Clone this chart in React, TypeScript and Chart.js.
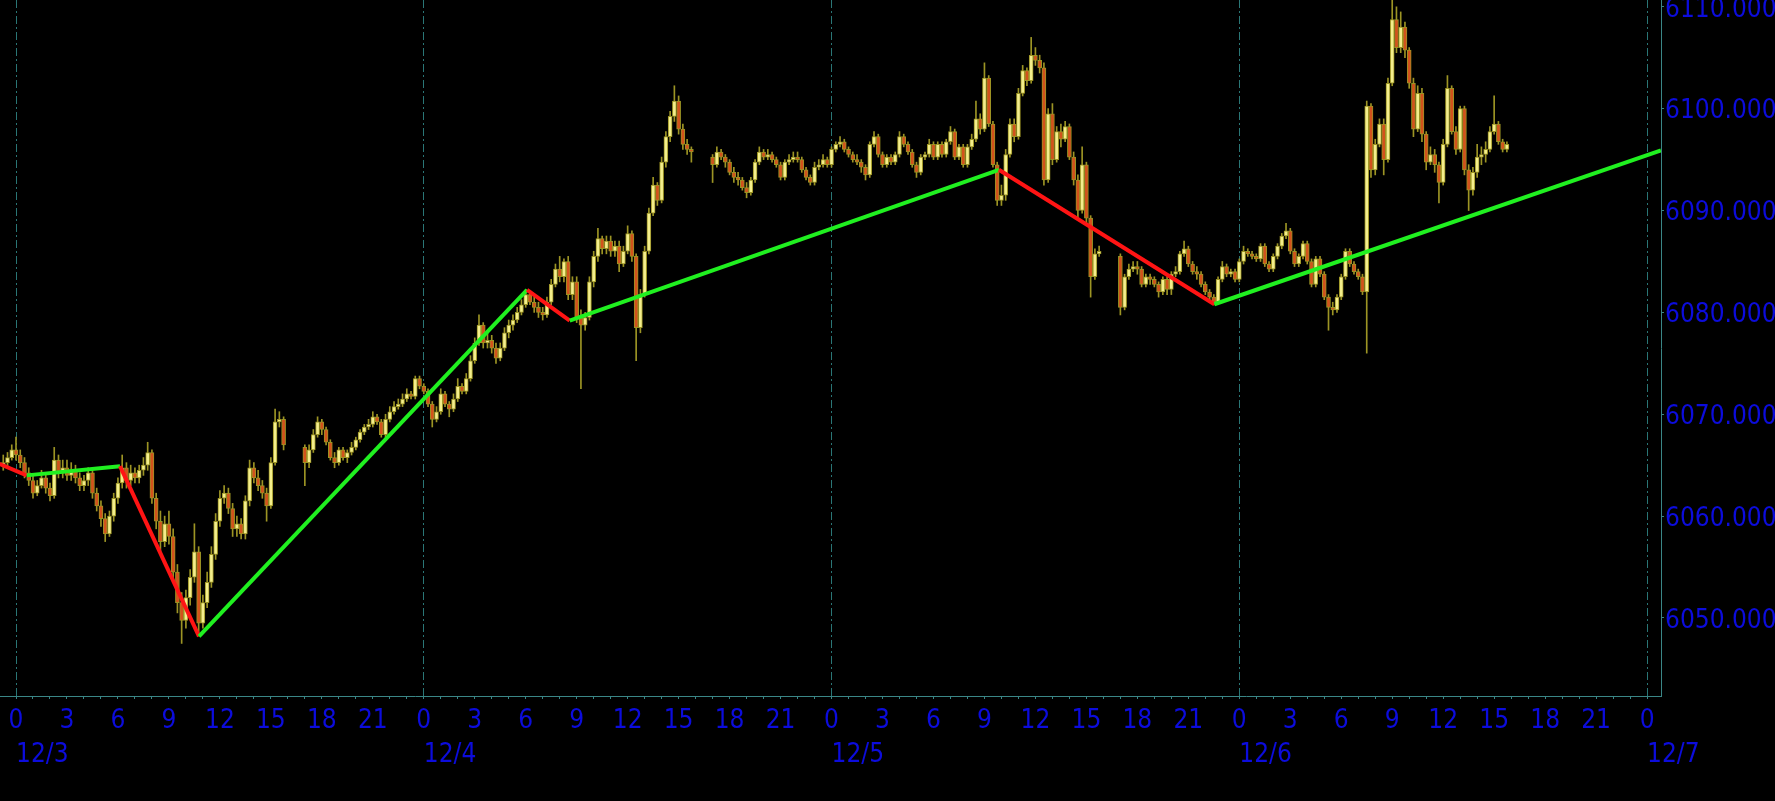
import React, { useEffect, useRef } from 'react';
import { Chart, registerables } from 'chart.js';

Chart.register(...registerables);

const N = null;

// 15-minute candles, first bar at 12/2 23:15 (hours counted from 12/3 00:00)
const FIRST_BAR_HOUR = -0.75;
const BAR_STEP_HOURS = 0.25;

// one row per hour (4 bars), N = no trading (daily break)
const OPEN: (number | null)[] = [
  6065.0, 6065.25, 6065.75,
  6066.5, 6066.0, 6065.25, 6064.25,
  6063.5, 6062.25, 6063.0, 6063.75,
  6062.75, 6062.0, 6065.5, 6064.25,
  6064.75, 6064.0, 6064.5, 6063.75,
  6063.0, 6063.5, 6064.25, 6062.25,
  6061.0, 6059.75, 6058.25, 6060.0,
  6061.75, 6063.25, 6064.75, 6063.5,
  6064.25, 6063.75, 6064.5, 6065.0,
  6066.25, 6061.75, 6059.5, 6057.5,
  6059.25, 6058.0, 6054.5, 6051.5,
  6049.75, 6052.0, 6054.0, 6056.5,
  6049.5, 6051.5, 6053.5, 6056.25,
  6059.5, 6061.75, 6062.25, 6060.75,
  6058.75, 6059.25, 6058.25, 6061.5,
  6064.75, 6063.75, 6063.0, 6062.25,
  6061.0, 6065.25, 6069.25, 6069.5,
  N, N, N, N,
  6066.75, 6065.25, 6066.5, 6068.0,
  6069.25, 6068.5, 6067.25, 6065.75,
  6065.25, 6066.5, 6065.75, 6066.25,
  6066.75, 6067.5, 6068.25, 6068.75,
  6069.0, 6069.75, 6069.25, 6068.0,
  6069.5, 6070.25, 6070.75, 6071.0,
  6071.5, 6072.0, 6071.75, 6073.5,
  6072.75, 6072.25, 6071.0, 6069.5,
  6070.25, 6072.0, 6071.0, 6070.5,
  6071.5, 6072.75, 6072.25, 6073.5,
  6075.25, 6077.0, 6078.75, 6077.0,
  6077.25, 6076.5, 6075.5, 6076.5,
  6078.0, 6078.75, 6079.25, 6080.0,
  6080.75, 6081.75, 6081.0, 6080.5,
  6080.0, 6079.75, 6081.0, 6082.75,
  6084.25, 6083.5, 6085.0, 6081.75,
  6083.0, 6079.5, 6078.75, 6079.5,
  6083.0, 6085.5, 6087.25, 6086.25,
  6087.0, 6086.0, 6086.5, 6084.75,
  6086.0, 6087.75, 6085.5, 6078.5,
  6081.75, 6086.0, 6089.75, 6092.5,
  6091.0, 6094.75, 6097.25, 6099.25,
  6100.75, 6098.0, 6096.5, 6096.0,
  N, N, N, N,
  6095.25, 6094.5, 6095.75, 6095.25,
  6094.75, 6093.75, 6093.25, 6093.0,
  6092.25, 6091.75, 6093.0, 6094.75,
  6095.75, 6095.25, 6095.5, 6095.0,
  6094.5, 6093.25, 6094.75, 6095.0,
  6095.25, 6095.0, 6094.0, 6093.25,
  6092.75, 6094.25, 6094.5, 6095.0,
  6094.5, 6096.0, 6096.5, 6096.75,
  6096.0, 6095.5, 6095.0, 6094.75,
  6094.25, 6093.5, 6096.5, 6097.25,
  6095.5, 6094.5, 6095.25, 6094.75,
  6095.5, 6097.25, 6096.5, 6095.75,
  6094.5, 6093.75, 6095.25, 6095.5,
  6096.5, 6095.25, 6096.5, 6095.5,
  6096.75, 6097.75, 6095.25, 6096.25,
  6094.5, 6096.25, 6097.0, 6099.0,
  6098.0, 6103.0, 6098.5, 6094.5,
  6091.0, 6091.5, 6095.5, 6098.5,
  6097.25, 6101.5, 6103.75, 6102.75,
  6105.25, 6104.75, 6104.0, 6093.0,
  6099.5, 6095.0, 6097.75, 6097.0,
  6098.25, 6095.25, 6093.0, 6090.0,
  6094.5, 6089.25, 6083.5, 6085.75,
  N, N, N, N,
  6085.5, 6080.5, 6083.5, 6084.25,
  6084.5, 6084.25, 6082.75, 6083.5,
  6083.25, 6082.75, 6082.0, 6083.25,
  6082.25, 6083.75, 6084.0, 6085.75,
  6086.25, 6084.75, 6084.0, 6083.75,
  6082.75, 6082.0, 6081.5, 6081.0,
  6083.25, 6084.5, 6083.75, 6084.0,
  6083.25, 6085.0, 6086.0, 6085.75,
  6085.5, 6085.25, 6086.5, 6084.75,
  6084.25, 6085.5, 6086.5, 6087.5,
  6088.0, 6086.0, 6084.75, 6085.5,
  6086.75, 6085.0, 6082.75, 6085.25,
  6083.75, 6081.5, 6080.5, 6080.25,
  6081.5, 6083.5, 6086.0, 6084.75,
  6084.0, 6083.5, 6082.0, 6100.25,
  6094.0, 6096.5, 6098.5, 6095.0,
  6102.5, 6108.75, 6106.0, 6108.0,
  6105.75, 6102.5, 6098.0, 6101.5,
  6097.5, 6094.75, 6095.5, 6094.5,
  6092.75, 6096.5, 6102.0, 6097.75,
  6096.0, 6100.0, 6094.0, 6092.0,
  6093.75, 6095.25, 6095.5, 6096.0,
  6097.75, 6098.5, 6096.75, 6096.0,
];

const HIGH: (number | null)[] = [
  6066.0, 6066.25, 6067.0,
  6067.75, 6066.5, 6065.75, 6064.75,
  6064.0, 6063.5, 6064.5, 6064.25,
  6063.25, 6066.75, 6066.0, 6065.5,
  6065.5, 6065.25, 6065.0, 6064.25,
  6064.0, 6064.75, 6064.75, 6062.75,
  6061.5, 6060.25, 6060.5, 6062.25,
  6063.75, 6066.0, 6065.25, 6065.0,
  6064.75, 6065.0, 6065.75, 6067.25,
  6066.5, 6062.25, 6060.5, 6060.0,
  6060.5, 6058.75, 6055.25, 6052.5,
  6052.75, 6054.75, 6059.25, 6057.0,
  6052.25, 6054.5, 6057.0, 6060.25,
  6062.5, 6063.0, 6062.75, 6061.25,
  6060.0, 6059.75, 6062.0, 6065.5,
  6065.25, 6064.5, 6063.5, 6062.75,
  6065.75, 6070.5, 6070.25, 6069.75,
  N, N, N, N,
  6067.0, 6067.0, 6068.5, 6069.75,
  6069.5, 6068.75, 6067.5, 6066.25,
  6066.75, 6066.75, 6066.5, 6067.25,
  6067.75, 6068.5, 6069.0, 6069.5,
  6070.25, 6070.0, 6069.5, 6070.0,
  6070.75, 6071.25, 6071.5, 6072.0,
  6072.5, 6072.25, 6073.75, 6073.75,
  6073.0, 6072.5, 6071.25, 6070.75,
  6072.5, 6072.25, 6071.25, 6072.0,
  6073.5, 6073.0, 6074.0, 6075.75,
  6077.5, 6079.75, 6079.0, 6078.0,
  6077.75, 6077.0, 6077.0, 6078.5,
  6079.25, 6079.75, 6080.5, 6081.25,
  6082.25, 6082.0, 6081.5, 6081.0,
  6080.5, 6081.5, 6083.25, 6084.75,
  6085.5, 6085.25, 6085.5, 6083.5,
  6083.5, 6080.25, 6080.0, 6083.5,
  6086.0, 6088.25, 6087.5, 6087.5,
  6087.5, 6087.0, 6087.0, 6086.5,
  6088.5, 6088.0, 6085.75, 6082.25,
  6086.5, 6090.25, 6093.25, 6092.75,
  6095.25, 6097.75, 6099.75, 6102.25,
  6101.25, 6098.5, 6097.0, 6096.25,
  N, N, N, N,
  6095.5, 6096.25, 6096.0, 6095.5,
  6095.0, 6094.25, 6093.75, 6093.25,
  6092.75, 6093.25, 6095.0, 6096.25,
  6096.0, 6096.0, 6095.75, 6095.25,
  6094.75, 6095.0, 6095.5, 6095.75,
  6095.75, 6095.25, 6094.25, 6093.5,
  6094.75, 6095.0, 6095.5, 6095.25,
  6096.25, 6096.75, 6097.25, 6097.0,
  6096.25, 6095.75, 6095.5, 6095.0,
  6094.5, 6096.75, 6097.75, 6097.5,
  6095.75, 6095.5, 6095.5, 6095.75,
  6097.75, 6097.5, 6096.75, 6096.0,
  6094.75, 6095.5, 6095.75, 6097.0,
  6096.75, 6096.75, 6096.75, 6097.0,
  6098.25, 6098.0, 6096.5, 6096.5,
  6096.5, 6097.5, 6100.75, 6099.5,
  6104.5, 6103.25, 6098.75, 6094.75,
  6092.5, 6096.0, 6099.0, 6099.0,
  6102.0, 6104.25, 6104.0, 6107.0,
  6106.0, 6105.25, 6104.5, 6100.0,
  6100.5, 6098.25, 6098.5, 6098.75,
  6098.5, 6095.75, 6093.5, 6096.25,
  6094.75, 6089.5, 6086.25, 6086.5,
  N, N, N, N,
  6085.75, 6083.75, 6084.75, 6085.0,
  6085.0, 6084.5, 6083.75, 6083.75,
  6083.5, 6083.0, 6083.5, 6083.5,
  6084.0, 6084.5, 6086.0, 6087.0,
  6086.5, 6085.0, 6084.5, 6084.0,
  6083.0, 6082.25, 6081.75, 6083.5,
  6085.0, 6084.75, 6084.25, 6084.25,
  6085.25, 6086.5, 6086.25, 6086.0,
  6085.75, 6086.75, 6086.75, 6085.0,
  6085.75, 6086.75, 6087.75, 6088.75,
  6088.25, 6086.25, 6085.75, 6087.0,
  6087.0, 6085.25, 6085.5, 6085.5,
  6084.0, 6081.75, 6081.0, 6081.75,
  6083.75, 6086.25, 6086.25, 6085.0,
  6084.25, 6083.75, 6100.75, 6100.5,
  6097.0, 6099.0, 6099.0, 6103.0,
  6110.75, 6110.0, 6109.5, 6108.5,
  6106.0, 6103.0, 6102.25, 6102.0,
  6097.75, 6096.25, 6096.0, 6094.75,
  6097.0, 6103.25, 6102.25, 6098.25,
  6100.25, 6100.25, 6094.5, 6094.25,
  6096.5, 6096.25, 6096.75, 6098.25,
  6101.25, 6098.75, 6097.0, 6096.75,
];

const LOW: (number | null)[] = [
  6064.5, 6064.75, 6065.5,
  6065.5, 6064.75, 6063.75, 6063.0,
  6061.75, 6062.0, 6062.75, 6062.25,
  6061.5, 6061.75, 6063.75, 6063.75,
  6063.5, 6063.5, 6063.25, 6062.5,
  6062.5, 6063.0, 6061.75, 6060.5,
  6059.0, 6057.5, 6058.0, 6059.5,
  6061.25, 6062.75, 6062.75, 6063.0,
  6063.25, 6063.25, 6064.0, 6064.5,
  6061.25, 6058.75, 6056.5, 6057.0,
  6057.25, 6053.75, 6050.5, 6047.5,
  6049.0, 6051.25, 6053.5, 6048.25,
  6049.0, 6051.0, 6053.0, 6055.75,
  6059.0, 6061.25, 6060.25, 6058.0,
  6058.0, 6057.75, 6057.75, 6061.0,
  6063.25, 6062.5, 6061.75, 6059.5,
  6060.75, 6065.0, 6068.75, 6066.5,
  N, N, N, N,
  6063.0, 6064.75, 6066.25, 6067.75,
  6068.0, 6067.0, 6065.5, 6064.75,
  6065.0, 6065.5, 6065.25, 6066.0,
  6066.5, 6067.25, 6068.0, 6068.5,
  6068.75, 6069.0, 6067.75, 6067.75,
  6069.25, 6070.0, 6070.5, 6070.75,
  6071.25, 6071.5, 6071.5, 6072.5,
  6072.0, 6070.75, 6068.75, 6069.25,
  6070.0, 6070.75, 6069.75, 6070.25,
  6071.25, 6072.0, 6072.0, 6073.25,
  6075.0, 6076.75, 6076.5, 6076.5,
  6076.0, 6075.0, 6075.25, 6076.25,
  6077.5, 6078.25, 6079.0, 6079.75,
  6080.5, 6080.75, 6080.0, 6079.5,
  6079.25, 6079.5, 6080.75, 6082.5,
  6083.0, 6083.0, 6081.25, 6081.25,
  6079.0, 6072.5, 6078.25, 6079.25,
  6082.5, 6085.0, 6085.75, 6085.75,
  6085.5, 6085.5, 6084.0, 6084.5,
  6085.75, 6085.0, 6075.25, 6078.0,
  6081.5, 6085.75, 6089.5, 6090.5,
  6090.75, 6094.25, 6096.75, 6098.75,
  6097.5, 6096.0, 6095.5, 6094.75,
  N, N, N, N,
  6092.75, 6094.25, 6095.0, 6094.25,
  6093.5, 6092.75, 6092.5, 6092.0,
  6091.25, 6091.5, 6092.75, 6094.5,
  6095.0, 6095.0, 6094.75, 6094.25,
  6093.0, 6093.0, 6094.5, 6094.75,
  6094.75, 6093.75, 6093.0, 6092.5,
  6092.5, 6094.0, 6094.25, 6094.25,
  6094.25, 6095.75, 6096.25, 6095.75,
  6095.25, 6094.75, 6094.5, 6093.75,
  6093.0, 6093.25, 6096.25, 6095.25,
  6094.25, 6094.25, 6094.5, 6094.5,
  6095.25, 6096.25, 6095.5, 6094.25,
  6093.25, 6093.5, 6095.0, 6095.25,
  6095.0, 6095.0, 6095.25, 6095.25,
  6096.5, 6095.0, 6095.0, 6094.25,
  6094.25, 6096.0, 6096.75, 6097.5,
  6097.75, 6098.25, 6094.25, 6090.5,
  6090.5, 6091.0, 6095.25, 6096.75,
  6097.0, 6101.25, 6102.25, 6102.5,
  6104.25, 6103.5, 6092.5, 6092.75,
  6094.5, 6094.75, 6096.25, 6096.75,
  6095.0, 6092.5, 6089.25, 6089.75,
  6088.75, 6081.5, 6083.25, 6085.5,
  N, N, N, N,
  6079.75, 6080.25, 6083.25, 6084.0,
  6083.75, 6082.5, 6082.5, 6082.75,
  6082.5, 6081.5, 6081.75, 6081.75,
  6081.75, 6083.5, 6083.75, 6085.5,
  6084.5, 6083.75, 6083.25, 6082.5,
  6081.75, 6081.25, 6080.75, 6080.75,
  6083.0, 6083.5, 6083.5, 6083.0,
  6083.0, 6084.75, 6085.5, 6085.25,
  6085.0, 6085.0, 6084.5, 6084.0,
  6084.0, 6085.25, 6086.25, 6087.25,
  6085.75, 6084.5, 6084.5, 6085.25,
  6084.75, 6082.5, 6082.5, 6083.5,
  6081.25, 6078.25, 6079.75, 6080.0,
  6081.25, 6083.25, 6084.5, 6083.75,
  6083.25, 6081.75, 6076.0, 6093.25,
  6093.5, 6096.25, 6093.5, 6094.75,
  6102.25, 6105.5, 6105.5, 6105.0,
  6102.0, 6097.25, 6097.75, 6096.75,
  6094.0, 6094.5, 6093.75, 6090.75,
  6092.5, 6096.25, 6097.5, 6095.5,
  6095.75, 6093.5, 6090.0, 6091.5,
  6093.25, 6094.5, 6094.75, 6095.75,
  6097.5, 6096.5, 6095.75, 6095.75,
];

const CLOSE: (number | null)[] = [
  6065.25, 6065.75, 6066.5,
  6066.0, 6065.25, 6064.25, 6063.5,
  6062.25, 6063.0, 6063.75, 6062.75,
  6062.0, 6065.5, 6064.25, 6064.75,
  6064.0, 6064.5, 6063.75, 6063.0,
  6063.5, 6064.25, 6062.25, 6061.0,
  6059.75, 6058.25, 6060.0, 6061.75,
  6063.25, 6064.75, 6063.5, 6064.25,
  6063.75, 6064.5, 6065.0, 6066.25,
  6061.75, 6059.5, 6057.5, 6059.25,
  6058.0, 6054.5, 6051.5, 6049.75,
  6052.0, 6054.0, 6056.5, 6049.5,
  6051.5, 6053.5, 6056.25, 6059.5,
  6061.75, 6062.25, 6060.75, 6058.75,
  6059.25, 6058.25, 6061.5, 6064.75,
  6063.75, 6063.0, 6062.25, 6061.0,
  6065.25, 6069.25, 6069.5, 6067.0,
  N, N, N, N,
  6065.25, 6066.5, 6068.0, 6069.25,
  6068.5, 6067.25, 6065.75, 6065.25,
  6066.5, 6065.75, 6066.25, 6066.75,
  6067.5, 6068.25, 6068.75, 6069.0,
  6069.75, 6069.25, 6068.0, 6069.5,
  6070.25, 6070.75, 6071.0, 6071.5,
  6072.0, 6071.75, 6073.5, 6072.75,
  6072.25, 6071.0, 6069.5, 6070.25,
  6072.0, 6071.0, 6070.5, 6071.5,
  6072.75, 6072.25, 6073.5, 6075.25,
  6077.0, 6078.75, 6077.0, 6077.25,
  6076.5, 6075.5, 6076.5, 6078.0,
  6078.75, 6079.25, 6080.0, 6080.75,
  6081.75, 6081.0, 6080.5, 6080.0,
  6079.75, 6081.0, 6082.75, 6084.25,
  6083.5, 6085.0, 6081.75, 6083.0,
  6079.5, 6078.75, 6079.5, 6083.0,
  6085.5, 6087.25, 6086.25, 6087.0,
  6086.0, 6086.5, 6084.75, 6086.0,
  6087.75, 6085.5, 6078.5, 6081.75,
  6086.0, 6089.75, 6092.5, 6091.0,
  6094.75, 6097.25, 6099.25, 6100.75,
  6098.0, 6096.5, 6096.0, 6095.75,
  N, N, N, N,
  6094.5, 6095.75, 6095.25, 6094.75,
  6093.75, 6093.25, 6093.0, 6092.25,
  6091.75, 6093.0, 6094.75, 6095.75,
  6095.25, 6095.5, 6095.0, 6094.5,
  6093.25, 6094.75, 6095.0, 6095.25,
  6095.0, 6094.0, 6093.25, 6092.75,
  6094.25, 6094.5, 6095.0, 6094.5,
  6096.0, 6096.5, 6096.75, 6096.0,
  6095.5, 6095.0, 6094.75, 6094.25,
  6093.5, 6096.5, 6097.25, 6095.5,
  6094.5, 6095.25, 6094.75, 6095.5,
  6097.25, 6096.5, 6095.75, 6094.5,
  6093.75, 6095.25, 6095.5, 6096.5,
  6095.25, 6096.5, 6095.5, 6096.75,
  6097.75, 6095.25, 6096.25, 6094.5,
  6096.25, 6097.0, 6099.0, 6098.0,
  6103.0, 6098.5, 6094.5, 6091.0,
  6091.5, 6095.5, 6098.5, 6097.25,
  6101.5, 6103.75, 6102.75, 6105.25,
  6104.75, 6104.0, 6093.0, 6099.5,
  6095.0, 6097.75, 6097.0, 6098.25,
  6095.25, 6093.0, 6090.0, 6094.5,
  6089.25, 6083.5, 6085.75, 6086.0,
  N, N, N, N,
  6080.5, 6083.5, 6084.25, 6084.5,
  6084.25, 6082.75, 6083.5, 6083.25,
  6082.75, 6082.0, 6083.25, 6082.25,
  6083.75, 6084.0, 6085.75, 6086.25,
  6084.75, 6084.0, 6083.75, 6082.75,
  6082.0, 6081.5, 6081.0, 6083.25,
  6084.5, 6083.75, 6084.0, 6083.25,
  6085.0, 6086.0, 6085.75, 6085.5,
  6085.25, 6086.5, 6084.75, 6084.25,
  6085.5, 6086.5, 6087.5, 6088.0,
  6086.0, 6084.75, 6085.5, 6086.75,
  6085.0, 6082.75, 6085.25, 6083.75,
  6081.5, 6080.5, 6080.25, 6081.5,
  6083.5, 6086.0, 6084.75, 6084.0,
  6083.5, 6082.0, 6100.25, 6094.0,
  6096.5, 6098.5, 6095.0, 6102.5,
  6108.75, 6106.0, 6108.0, 6105.75,
  6102.5, 6098.0, 6101.5, 6097.5,
  6094.75, 6095.5, 6094.5, 6092.75,
  6096.5, 6102.0, 6097.75, 6096.0,
  6100.0, 6094.0, 6092.0, 6093.75,
  6095.25, 6095.5, 6096.0, 6097.75,
  6098.5, 6096.75, 6096.0, 6096.5,
];

// zigzag pivots (hour, price)
const ZIGZAG_HOURS = [-1.0, 0.63, 6.12, 10.77, 30.08, 32.59, 57.85, 70.53, 96.82];
const ZIGZAG_VALUES = [6065.15, 6064.0, 6064.9, 6048.2, 6082.2, 6079.2, 6094.0, 6080.8, 6095.9];

const DATE_TICKS = [0, 24, 48, 72, 96];
const DATE_LABELS = ['12/3', '12/4', '12/5', '12/6', '12/7'];
const PRICE_TICKS = [6050, 6060, 6070, 6080, 6090, 6100, 6110];

const X_MIN = -0.942;
const X_MAX = 96.82;
const Y_MIN = 6042.34;
const Y_MAX = 6110.67;

const BLUE = '#0c0cdc';
const TEAL = '#3a8686';
const DASH = '#2a7676';
const UP = '#f4ee8c';
const DOWN = '#d2521c';
const WICK = '#9c9424';
const RED = '#ff1414';
const GREEN = '#20f020';
const FONT = { family: '"DejaVu Sans Condensed", "DejaVu Sans", sans-serif', size: 26 };

export default function App() {
  const ref = useRef<HTMLCanvasElement | null>(null);

  useEffect(() => {
    document.body.style.margin = '0';
    document.body.style.background = '#000';
    const bodies: any[] = [];
    const wicks: any[] = [];
    const colors: string[] = [];
    OPEN.forEach((o, i) => {
      const c = CLOSE[i];
      if (o === null || c === null) return;
      const x = FIRST_BAR_HOUR + i * BAR_STEP_HOURS;
      bodies.push({ x, y: [o, c] });
      wicks.push({ x, y: [LOW[i], HIGH[i]] });
      colors.push(c >= o ? UP : DOWN);
    });
    const zz = ZIGZAG_HOURS.map((h, i) => ({ x: h, y: ZIGZAG_VALUES[i] }));

    const chart = new Chart(ref.current as HTMLCanvasElement, {
      type: 'bar',
      data: {
        datasets: [
          {
            type: 'bar',
            data: wicks,
            backgroundColor: WICK,
            barThickness: 1,
            grouped: false,
            order: 3,
          } as any,
          {
            type: 'bar',
            data: bodies,
            backgroundColor: colors,
            borderColor: WICK,
            borderWidth: 1,
            borderSkipped: false,
            barThickness: 4,
            grouped: false,
            minBarLength: 2,
            order: 2,
          } as any,
          {
            type: 'line',
            data: zz,
            borderColor: GREEN,
            borderWidth: 4,
            pointRadius: 0,
            tension: 0,
            order: 1,
            segment: {
              borderColor: (ctx: any) => (ctx.p1.parsed.y >= ctx.p0.parsed.y ? GREEN : RED),
            },
          } as any,
        ],
      },
      options: {
        responsive: false,
        animation: false,
        devicePixelRatio: 1,
        events: [],
        layout: { padding: 0 },
        plugins: { legend: { display: false }, tooltip: { enabled: false } },
        scales: {
          x: {
            type: 'linear',
            position: 'bottom',
            min: X_MIN,
            max: X_MAX,
            offset: false,
            weight: 0,
            afterBuildTicks: (s: any) => {
              s.ticks = Array.from({ length: 97 }, (_, i) => ({ value: i }));
            },
            ticks: {
              autoSkip: false,
              maxRotation: 0,
              padding: 7,
              color: BLUE,
              font: FONT,
              callback: (v: any) => (Number(v) % 3 === 0 ? String(Number(v) % 24) : ''),
            },
            grid: {
              offset: false,
              color: (ctx: any) => (ctx.tick && ctx.tick.value % 24 === 0 ? DASH : 'rgba(0,0,0,0)'),
              lineWidth: 1,
              tickColor: TEAL,
              tickLength: 3,
            },
            border: { color: TEAL, width: 1, dash: [8, 3, 2, 3] },
            afterFit: (s: any) => {
              s.height = 33;
              s.paddingLeft = 0;
              s.paddingRight = 0;
            },
          } as any,
          xDate: {
            type: 'linear',
            position: 'bottom',
            min: X_MIN,
            max: X_MAX,
            offset: false,
            weight: 1,
            afterBuildTicks: (s: any) => {
              s.ticks = DATE_TICKS.map((v) => ({ value: v }));
            },
            ticks: {
              autoSkip: false,
              maxRotation: 0,
              align: 'start',
              padding: 3,
              color: BLUE,
              font: FONT,
              callback: (_v: any, i: number) => DATE_LABELS[i],
            },
            grid: { display: false },
            border: { display: false },
            afterFit: (s: any) => {
              s.height = 72;
              s.paddingLeft = 0;
              s.paddingRight = 0;
            },
          } as any,
          y: {
            type: 'linear',
            position: 'right',
            min: Y_MIN,
            max: Y_MAX,
            afterBuildTicks: (s: any) => {
              s.ticks = PRICE_TICKS.map((v) => ({ value: v }));
            },
            ticks: {
              color: BLUE,
              font: FONT,
              padding: 1,
              labelOffset: 3,
              callback: (v: any) => Number(v).toFixed(3),
            },
            grid: { drawOnChartArea: false, tickColor: TEAL, tickLength: 3 },
            border: { color: TEAL, width: 1 },
            afterFit: (s: any) => {
              s.width = 114;
              s.paddingTop = 0;
              s.paddingBottom = 0;
            },
          } as any,
        },
      } as any,
    });
    return () => chart.destroy();
  }, []);

  return (
    <div style={{ position: 'absolute', left: 0, top: 0, width: 1775, height: 801, background: '#000' }}>
      <canvas ref={ref} width={1775} height={801} style={{ display: 'block', width: 1775, height: 801 }} />
    </div>
  );
}
